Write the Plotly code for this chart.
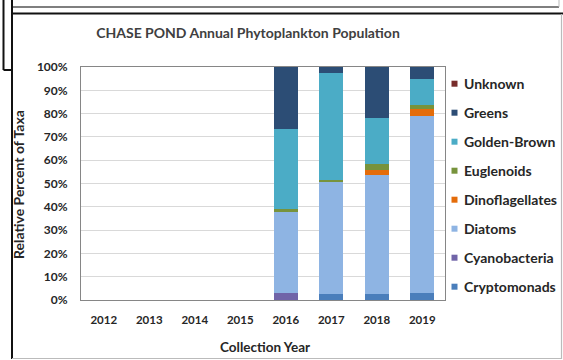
import plotly.graph_objects as go

years = ["2012", "2013", "2014", "2015", "2016", "2017", "2018", "2019"]
cryptomonads = [None, None, None, None, 0.0, 2.6, 2.6, 3.1]
cyanobacteria = [None, None, None, None, 2.8, 0.0, 0.0, 0.0]
diatoms = [None, None, None, None, 35.0, 48.3, 51.2, 76.0]
dinoflagellates = [None, None, None, None, 0.0, 0.0, 2.2, 2.9]
euglenoids = [None, None, None, None, 1.1, 0.6, 2.4, 1.5]
golden_brown = [None, None, None, None, 34.6, 46.1, 19.7, 11.4]
greens = [None, None, None, None, 26.5, 2.4, 21.9, 5.1]
unknown = [None, None, None, None, 0.0, 0.0, 0.0, 0.0]

series = [
    ("Cryptomonads", cryptomonads, "#4A7EBB"),
    ("Cyanobacteria", cyanobacteria, "#7064A8"),
    ("Diatoms", diatoms, "#8EB4E3"),
    ("Dinoflagellates", dinoflagellates, "#E46C0A"),
    ("Euglenoids", euglenoids, "#77933C"),
    ("Golden-Brown", golden_brown, "#4BACC6"),
    ("Greens", greens, "#2C4D75"),
    ("Unknown", unknown, "#772C2A"),
]

W, H = 563, 360
ML, MR, MT, MB = 81, 118, 67, 60
PW, PH = W - ML - MR, H - MT - MB


def px(x):
    return (x - ML) / PW


def py(y):
    return 1 - (y - MT) / PH


fig = go.Figure()
for name, vals, col in series:
    fig.add_trace(go.Bar(x=years, y=vals, name=name, marker_color=col,
                         marker_line_width=0, showlegend=False))

FONT = "Lato"
TXT = "#262626"

shapes = []
annotations = []


def line(x0, y0, x1, y1, color, width):
    shapes.append(dict(type="line", xref="paper", yref="paper",
                       x0=px(x0), y0=py(y0), x1=px(x1), y1=py(y1),
                       line=dict(color=color, width=width), layer="above"))


# frame decorations
line(12, 7, 559, 7, "#555555", 1.5)
line(559, 0, 559, 7, "#bbbbbb", 1)
line(12, 13.5, 563, 13.5, "#111111", 2)
line(12, 0, 12, 359, "#111111", 2)
line(3.5, 0, 3.5, 70, "#111111", 2)
line(3.5, 70, 12, 70, "#111111", 2)
line(561.5, 14, 561.5, 359, "#bbbbbb", 1.2)
line(12, 358.5, 562, 358.5, "#bbbbbb", 1.2)

# legend (top = last series)
LEG_TOP, LEG_STEP = 83.7, 29.0
for i, (name, vals, col) in enumerate(reversed(series)):
    cy = LEG_TOP + i * LEG_STEP
    shapes.append(dict(type="rect", xref="paper", yref="paper",
                       x0=px(451.5), x1=px(457.5), y0=py(cy - 3), y1=py(cy + 3),
                       fillcolor=col, line=dict(width=0), layer="above"))
    annotations.append(dict(text=name, xref="paper", yref="paper",
                            x=px(461.5), y=py(cy), xanchor="left", yanchor="middle",
                            showarrow=False,
                            font=dict(family=FONT, size=14, color=TXT, weight="bold")))

# axis titles
annotations.append(dict(text="Collection Year", xref="paper", yref="paper",
                        x=px(265), y=py(347), xanchor="center", yanchor="middle",
                        showarrow=False,
                        font=dict(family=FONT, size=13.5, color=TXT, weight="bold")))
annotations.append(dict(text="Relative Percent of Taxa", xref="paper", yref="paper",
                        x=px(18), y=py(185), xanchor="center", yanchor="middle",
                        textangle=-90, showarrow=False,
                        font=dict(family=FONT, size=14, color=TXT, weight="bold")))

fig.update_layout(
    width=W, height=H,
    margin=dict(l=ML, r=MR, t=MT, b=MB, autoexpand=False),
    paper_bgcolor="white", plot_bgcolor="white",
    barmode="stack", bargap=0.47,
    font=dict(family=FONT, size=11, color=TXT, weight="bold"),
    title=dict(text="CHASE POND Annual Phytoplankton Population",
               xref="container", yref="container",
               x=248 / W, xanchor="center", y=1 - 33 / H, yanchor="middle",
               font=dict(family=FONT, size=14, color="#404040", weight="bold")),
    showlegend=False,
    shapes=shapes,
    annotations=annotations,
)

fig.update_xaxes(showline=True, linecolor="#868686", linewidth=1, mirror=True,
                 showgrid=False, ticks="", ticklabelstandoff=9, automargin=False,
                 tickfont=dict(family=FONT, size=11.5, color=TXT, weight="bold"))
fig.update_yaxes(range=[0, 100], dtick=10, ticksuffix="%", showline=True,
                 linecolor="#868686", linewidth=1, mirror=True,
                 gridcolor="#D9D9D9", gridwidth=1, ticks="", automargin=False,
                 ticklabelstandoff=10,
                 tickfont=dict(family=FONT, size=12, color=TXT, weight="bold"))

fig.write_html("out.html")
